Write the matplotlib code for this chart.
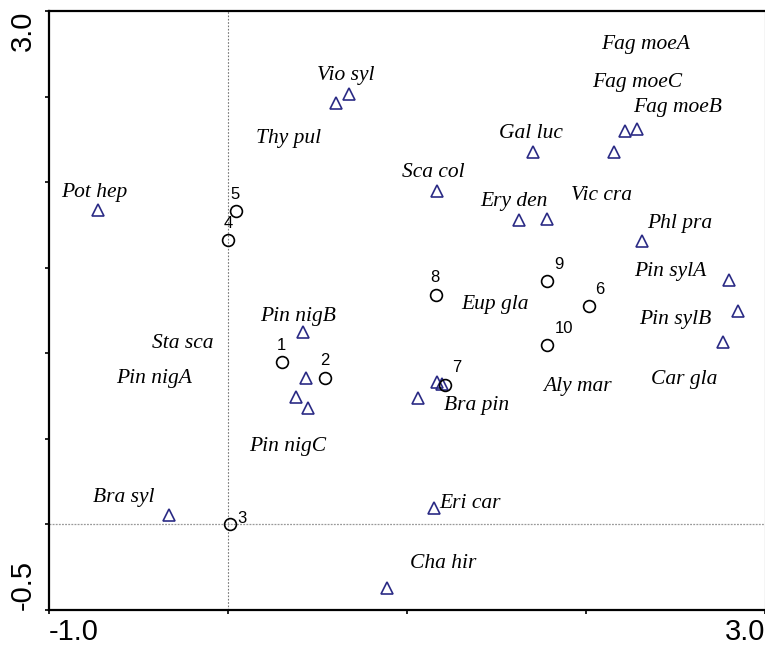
"""Ordination biplot: species scores (triangles) and releve scores (circles)."""
import matplotlib.pyplot as plt

# species scores
species_names = ["Pot hep", "Vio syl", "Thy pul", "Sca col", "Gal luc",
                 "Fag moeA", "Fag moeB", "Fag moeC", "Ery den", "Vic cra",
                 "Phl pra", "Pin sylA", "Pin sylB", "Car gla", "Pin nigB",
                 "Pin nigA", "Sta sca", "Pin nigC", "Bra pin", "Aly mar",
                 "Eup gla", "Eri car", "Bra syl", "Cha hir"]
species_x = [-0.725, 0.603, 0.676, 1.166, 1.706,
             2.220, 2.283, 2.156, 1.626, 1.780,
             2.313, 2.797, 2.851, 2.764, 0.417,
             0.436, 0.380, 0.449, 1.166, 1.194,
             1.060, 1.151, -0.331, 0.887]
species_y = [1.839, 2.465, 2.514, 1.950, 2.179,
             2.296, 2.312, 2.176, 1.780, 1.785,
             1.656, 1.430, 1.249, 1.068, 1.123,
             0.854, 0.745, 0.681, 0.833, 0.823,
             0.737, 0.097, 0.054, -0.372]

# where each species name is written (label centre)
species_label_x = [-0.745, 0.659, 0.341, 1.145, 1.690,
                   2.335, 2.514, 2.288, 1.598, 2.089,
                   2.525, 2.469, 2.497, 2.550, 0.391,
                   -0.411, -0.251, 0.335, 1.391, 1.955,
                   1.492, 1.352, -0.581, 1.201]
species_label_y = [1.938, 2.621, 2.253, 2.055, 2.283,
                   2.802, 2.434, 2.580, 1.887, 1.921,
                   1.757, 1.477, 1.197, 0.846, 1.216,
                   0.852, 1.057, 0.457, 0.695, 0.806,
                   1.284, 0.123, 0.158, -0.228]

# releve scores
sample_ids = ["1", "2", "3", "4", "5", "6", "7", "8", "9", "10"]
sample_x = [0.302, 0.540, 0.011, 0.000, 0.043, 2.015, 1.212, 1.162, 1.784, 1.782]
sample_y = [0.952, 0.858, 0.000, 1.664, 1.831, 1.274, 0.816, 1.343, 1.424, 1.051]
sample_label_x = [0.300, 0.540, 0.080, 0.000, 0.039, 2.078, 1.278, 1.158, 1.851, 1.877]
sample_label_y = [1.045, 0.957, 0.035, 1.757, 1.926, 1.372, 0.915, 1.440, 1.518, 1.144]

x_ticks = [-1.0, 0.0, 1.0, 2.0, 3.0]
x_tick_labels = ["-1.0", "", "", "", "3.0"]
y_ticks = [-0.5, 0.0, 0.5, 1.0, 1.5, 2.0, 2.5, 3.0]
y_tick_labels = ["-0.5", "", "", "", "", "", "", "3.0"]

TRI_COLOR = "#2b2b85"


def main():
    fig = plt.figure(figsize=(7.65, 6.46), dpi=100)
    ax = fig.add_axes([49 / 765, 36 / 646, 716 / 765, 599 / 646])

    ax.axvline(0, color="#777777", lw=0.8, ls=(0, (1.5, 1.5)), zorder=1)
    ax.axhline(0, color="#999999", lw=0.9, ls=(0, (1.5, 1.0)), zorder=1)

    ax.plot(species_x, species_y, ls="none", marker="^", ms=8.5,
            mfc="none", mec=TRI_COLOR, mew=1.2, zorder=3)
    ax.plot(sample_x, sample_y, ls="none", marker="o", ms=8.5,
            mfc="none", mec="black", mew=1.2, zorder=3)

    for name, lx, ly in zip(species_names, species_label_x, species_label_y):
        ax.text(lx, ly, name, ha="center", va="center", fontsize=15.5,
                family="Liberation Serif", style="italic", color="black")
    for sid, lx, ly in zip(sample_ids, sample_label_x, sample_label_y):
        ax.text(lx, ly, sid, ha="center", va="center", fontsize=12,
                family="Liberation Sans", color="black")

    ax.set_xlim(-1.0, 3.0)
    ax.set_ylim(-0.5, 3.0)
    ax.set_xticks(x_ticks)
    ax.set_xticklabels(x_tick_labels, fontsize=21, family="Liberation Sans")
    ax.set_yticks(y_ticks)
    ax.set_yticklabels(y_tick_labels, fontsize=21, family="Liberation Sans",
                       rotation=90, va="center")
    ax.tick_params(axis="x", direction="out", length=3, width=1.2, pad=3)
    ax.tick_params(axis="y", direction="out", length=3, width=1.2, pad=6)

    xl = ax.get_xticklabels()
    xl[0].set_ha("left")
    xl[-1].set_ha("right")
    yl = ax.get_yticklabels()
    yl[0].set_va("bottom")
    yl[-1].set_va("top")

    for side in ("left", "bottom", "top"):
        ax.spines[side].set_linewidth(1.6)
    ax.spines["right"].set_color("#cccccc")
    ax.spines["right"].set_linewidth(1.0)

    fig.savefig("out.png", dpi=100)
    plt.close(fig)


if __name__ == "__main__":
    main()
